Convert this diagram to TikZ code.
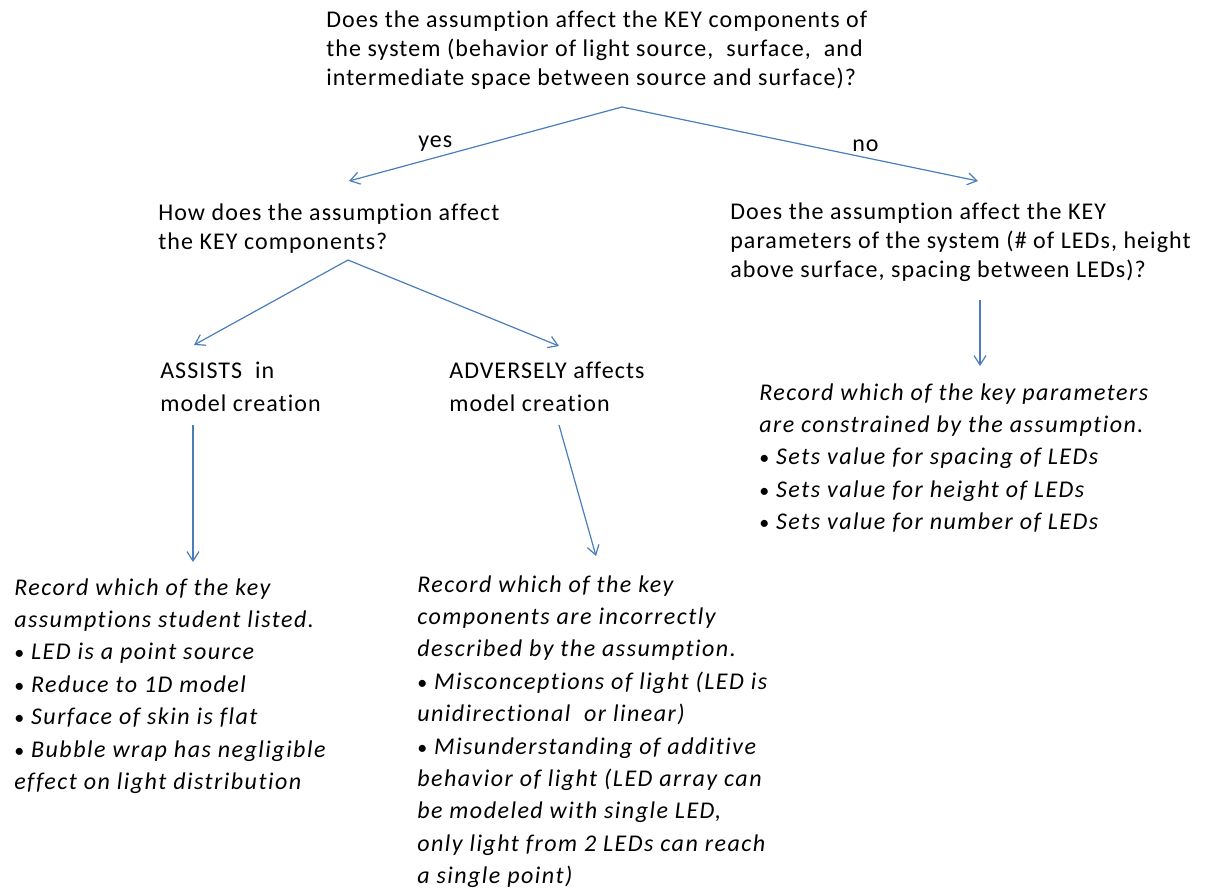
\documentclass[tikz,border=0pt]{standalone}
\usepackage{fontspec}
\setmainfont{Carlito}[LetterSpace=4.5,Ligatures=NoCommon,ItalicFeatures={LetterSpace=6.2}]
\usetikzlibrary{arrows.meta}
\definecolor{lineblue}{HTML}{4A7EBB}
\newcommand\blk[1]{\begin{tabular}[t]{@{}l@{}}#1\end{tabular}}
\newcommand\bul{{\upshape\fontsize{15}{15}\selectfont •}}
\begin{document}
\begin{tikzpicture}[x=0.75pt,y=-0.75pt,
  txt/.style={anchor=base west,inner sep=0pt,font=\fontsize{18}{22.1}\selectfont},
  itx/.style={anchor=base west,inner sep=0pt,font=\fontsize{18}{24.3}\selectfont\itshape},
  lbl/.style={anchor=base west,inner sep=0pt,font=\fontsize{18}{22}\selectfont},
  arr/.style={draw=lineblue,line width=0.9pt,-{Straight Barb[length=7pt,width=9pt]}}]
\useasboundingbox (0,0) rectangle (1219,894);

\node[txt] (top) at (326,27) {\blk{Does the assumption affect the KEY components of\\
the system (behavior of light source,~ surface,~ and\\
intermediate space between source and surface)?}};
\node[lbl] (yes) at (418,147) {yes};
\node[lbl] (no) at (852,151) {no};
\node[txt] (how) at (158,220) {\blk{How does the assumption affect\\the KEY components?}};
\node[txt] (param) at (730,219) {\blk{Does the assumption affect the KEY\\
parameters of the system (\# of LEDs, height\\
above surface, spacing between LEDs)?}};
\node[txt,font=\fontsize{18}{25}\selectfont] (assist) at (160,378) {\blk{ASSISTS~ in\\model creation}};
\node[txt,font=\fontsize{18}{25}\selectfont] (adverse) at (449,378) {\blk{ADVERSELY affects\\model creation}};
\node[itx] (recp) at (759,400) {\blk{Record which of the key parameters\\
are constrained by the assumption.\\
\bul{} Sets value for spacing of LEDs\\
\bul{} Sets value for height of LEDs\\
\bul{} Sets value for number of LEDs}};
\node[itx] (reca) at (14,595) {\blk{Record which of the key\\
assumptions student listed.\\
\bul{} LED is a point source\\
\bul{} Reduce to 1D model\\
\bul{} Surface of skin is flat\\
\bul{} Bubble wrap has negligible\\
effect on light distribution}};
\node[itx] (recc) at (417,592) {\blk{Record which of the key\\
components are incorrectly\\
described by the assumption.\\
\bul{} Misconceptions of light (LED is\\
unidirectional~ or linear)\\
\bul{} Misunderstanding of additive\\
behavior of light (LED array can\\
be modeled with single LED,\\
only light from 2 LEDs can reach\\
a single point)}};

\coordinate (a0) at (622,107);
\coordinate (a1) at (349,181);
\coordinate (a2) at (978,181);
\coordinate (b0) at (348,260);
\coordinate (b1) at (194,345);
\coordinate (b2) at (559,346);
\coordinate (c0) at (980,300);
\coordinate (c1) at (980,366);
\coordinate (d0) at (193,425);
\coordinate (d1) at (193,562);
\coordinate (e0) at (559,425);
\coordinate (e1) at (596,556);

\draw[arr] (a0) -- (a1);
\draw[arr] (a0) -- (a2);
\draw[arr] (b0) -- (b1);
\draw[arr] (b0) -- (b2);
\draw[arr] (c0) -- (c1);
\draw[arr] (d0) -- (d1);
\draw[arr] (e0) -- (e1);
\end{tikzpicture}
\end{document}
